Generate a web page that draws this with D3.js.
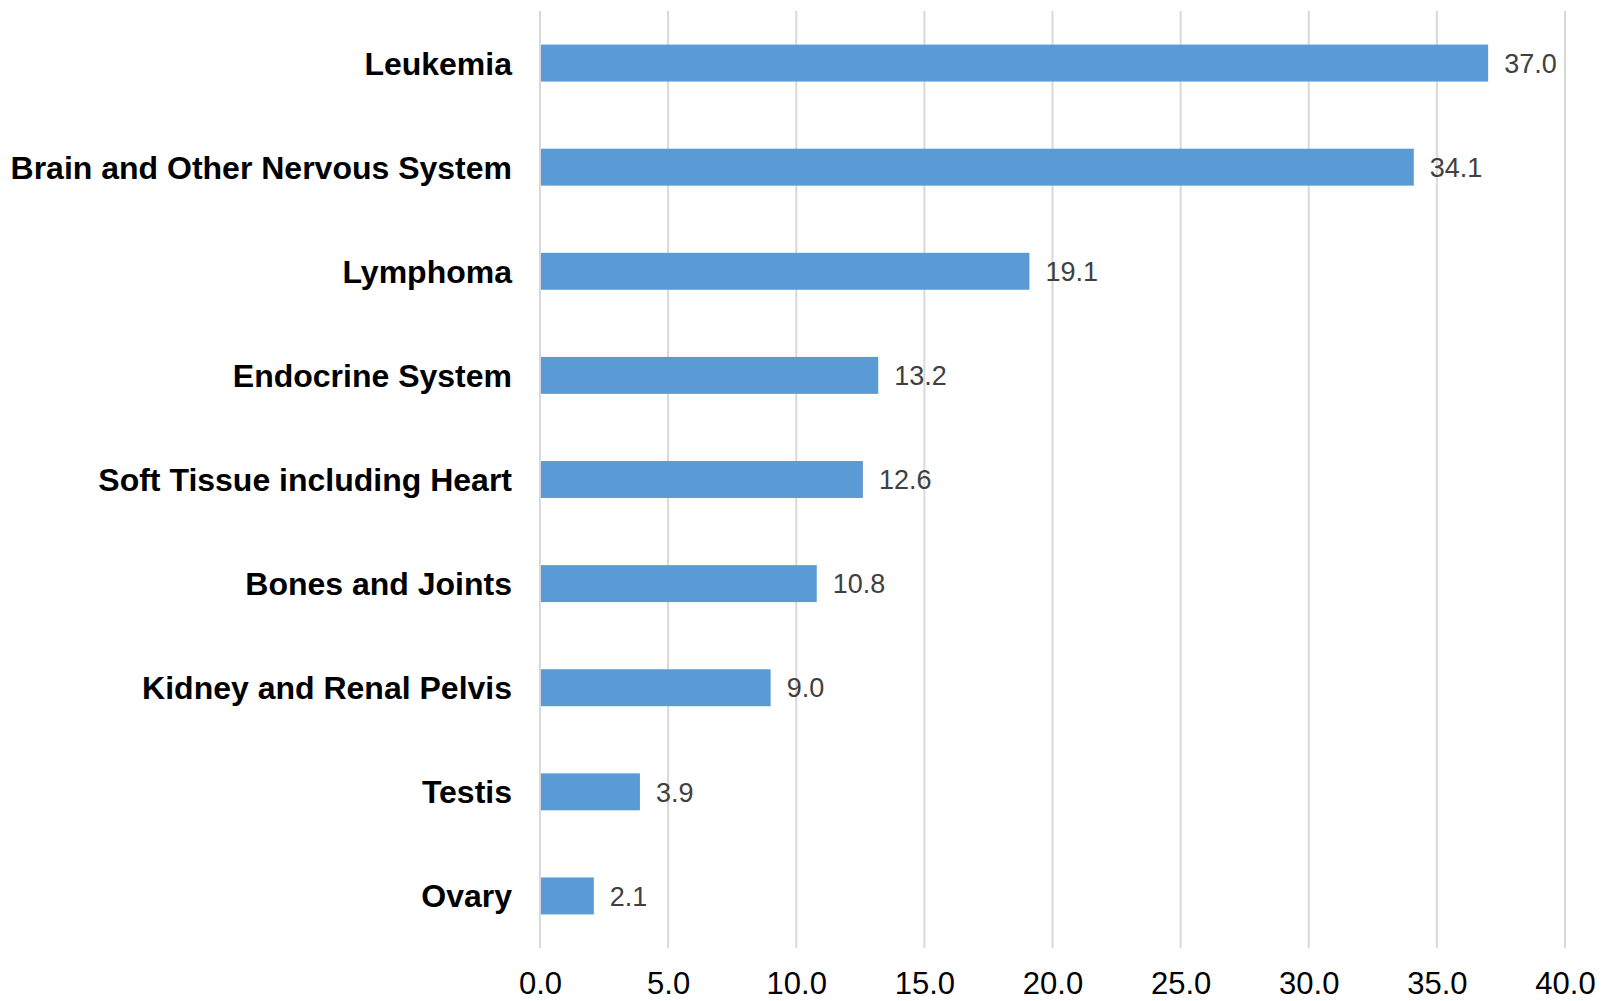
<!DOCTYPE html>
<html>
<head>
<meta charset="utf-8">
<script src="https://cdn.jsdelivr.net/npm/d3@7"></script>
<style>
  html, body { margin: 0; padding: 0; background: #fff; overflow: hidden; }
  svg { display: block; font-family: Arial, "Liberation Sans", sans-serif; }
</style>
</head>
<body>
<div id="chart"></div>
<script>
// Data
const categories = [
  'Leukemia',
  'Brain and Other Nervous System',
  'Lymphoma',
  'Endocrine System',
  'Soft Tissue including Heart',
  'Bones and Joints',
  'Kidney and Renal Pelvis',
  'Testis',
  'Ovary'
];
const values = [37.0, 34.1, 19.1, 13.2, 12.6, 10.8, 9.0, 3.9, 2.1];
const xTicks = [0, 5, 10, 15, 20, 25, 30, 35, 40];

const width = 1604;
const height = 1001;
const margin = { top: 11, right: 39, bottom: 53, left: 540 };
const innerWidth = width - margin.left - margin.right;
const innerHeight = height - margin.top - margin.bottom;

const svg = d3.select('#chart')
  .append('svg')
  .attr('width', width)
  .attr('height', height);

const g = svg.append('g')
  .attr('transform', `translate(${margin.left},${margin.top})`);

// Scales
const xScale = d3.scaleLinear().domain([0, 40]).range([0, innerWidth]);
const yScale = d3.scaleBand()
  .domain(categories)
  .range([0, innerHeight])
  .paddingInner(0.645)
  .paddingOuter(0.3225);

// Vertical gridlines
g.append('g')
  .attr('class', 'grid')
  .selectAll('line')
  .data(xTicks)
  .join('line')
  .attr('x1', d => xScale(d))
  .attr('x2', d => xScale(d))
  .attr('y1', 0)
  .attr('y2', innerHeight)
  .attr('stroke', '#d9d9d9')
  .attr('stroke-width', 2);

// Bars
const rows = categories.map((c, i) => ({ name: c, value: values[i] }));

g.append('g')
  .attr('class', 'bars')
  .selectAll('rect')
  .data(rows)
  .join('rect')
  .attr('x', xScale(0) + 1)
  .attr('y', d => yScale(d.name))
  .attr('width', d => xScale(d.value) - xScale(0) - 1)
  .attr('height', yScale.bandwidth())
  .attr('fill', '#5b9bd5');

// Value labels
g.append('g')
  .attr('class', 'value-labels')
  .selectAll('text')
  .data(rows)
  .join('text')
  .attr('x', d => xScale(d.value) + 16)
  .attr('y', d => yScale(d.name) + yScale.bandwidth() / 2)
  .attr('dy', '0.36em')
  .attr('font-size', 27)
  .attr('fill', '#404040')
  .text(d => d3.format('.1f')(d.value));

// Category labels
g.append('g')
  .attr('class', 'category-labels')
  .selectAll('text')
  .data(rows)
  .join('text')
  .attr('x', -28)
  .attr('y', d => yScale(d.name) + yScale.bandwidth() / 2)
  .attr('dy', '0.36em')
  .attr('text-anchor', 'end')
  .attr('font-size', 32)
  .attr('font-weight', 'bold')
  .attr('fill', '#000')
  .text(d => d.name);

// X axis
const xAxis = g.append('g')
  .attr('class', 'x-axis')
  .attr('transform', `translate(0,${innerHeight})`)
  .call(d3.axisBottom(xScale).tickValues(xTicks).tickSize(0).tickFormat(d3.format('.1f')));

xAxis.select('.domain').remove();
xAxis.selectAll('text')
  .attr('y', 46)
  .attr('dy', 0)
  .attr('font-size', 31)
  .attr('font-family', 'Arial, "Liberation Sans", sans-serif')
  .attr('fill', '#000');
</script>
</body>
</html>
